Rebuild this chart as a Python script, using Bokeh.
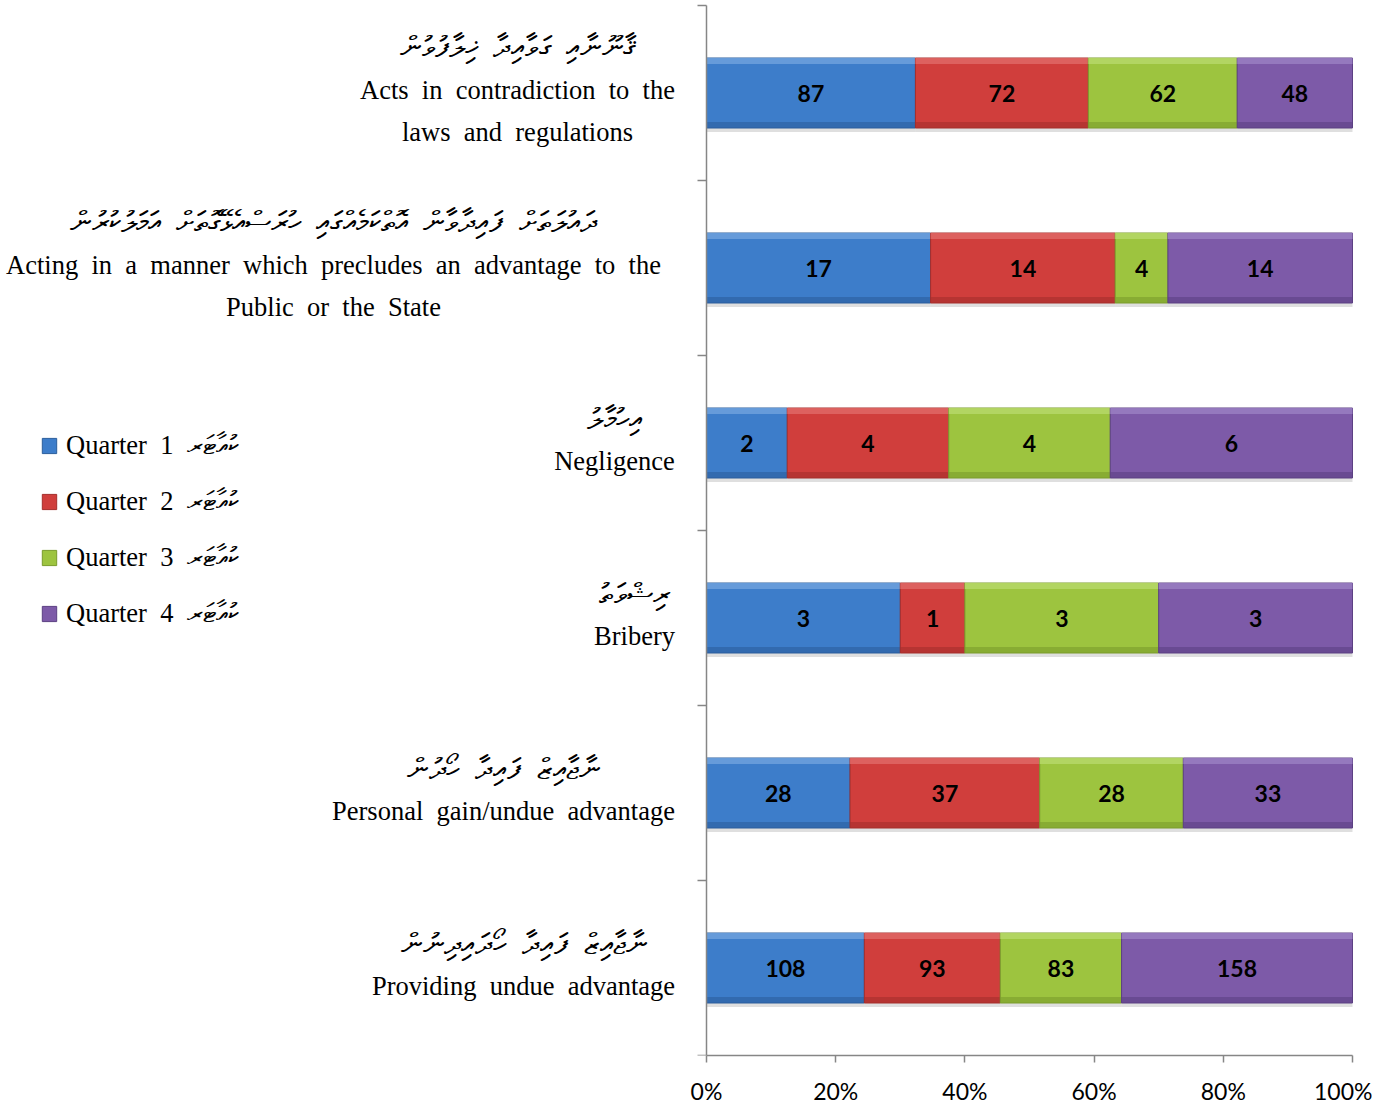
from bokeh.plotting import figure
from bokeh.models import FixedTicker, Legend, LegendItem, ColumnDataSource, Range1d
from bokeh.core.properties import value
from bokeh.embed import file_html
from bokeh.resources import INLINE

# ---------------- data (bottom to top) ----------------
categories_en = [
    ["Providing undue advantage"],
    ["Personal gain/undue advantage"],
    ["Bribery"],
    ["Negligence"],
    ["Acting in a manner which precludes an advantage to the", "Public or the State"],
    ["Acts in contradiction to the", "laws and regulations"],
]
categories_dv = [
    "ނާޖާއިޒް ފައިދާ ހޯދައިދިނުން",
    "ނާޖާއިޒް ފައިދާ ހޯދުން",
    "ރިޝްވަތު",
    "އިހުމާލު",
    "ދައުލަތަށް ފައިދާވާން އޮތްކަމެއްގައި ހުރަސްއެޅޭގޮތަށް އަމަލުކުރުން",
    "ޤާނޫނާއި ގަވާއިދާ ޚިލާފުވުން",
]
q1 = [108, 28, 3, 2, 17, 87]
q2 = [93, 37, 1, 4, 14, 72]
q3 = [83, 28, 3, 4, 4, 62]
q4 = [158, 33, 3, 6, 14, 48]
series = [q1, q2, q3, q4]
series_names = ["Quarter 1 ކުއާޓަރ", "Quarter 2 ކުއާޓަރ", "Quarter 3 ކުއާޓަރ", "Quarter 4 ކުއާޓަރ"]
x_ticks = [0, 20, 40, 60, 80, 100]
x_tick_labels = ["0%", "20%", "40%", "60%", "80%", "100%"]

# ---------------- style ----------------
face = ["#3d7dca", "#d03e3c", "#9dc43f", "#7d5aa8"]
light = ["#6a9fdc", "#de6563", "#b5d766", "#987cc0"]
dark = ["#2c5e9c", "#a52e2c", "#7a9c2c", "#5c4083"]
serif = "Liberation Serif"
sans = "Lato"


def spaced(s):
    # the reference sets its labels with wide (justified) word gaps
    return s.replace(" ", "\u00a0 ")


PX0 = 706.0          # pixel of 0%
PXU = 6.46           # pixels per percent
FRAME_W = 1372
FRAME_H = 1055
CAT_PX = 175.0
BAR_H = 0.4

n = len(q1)
ys = [i + 0.5 for i in range(n)]
totals = [sum(s[i] for s in series) for i in range(n)]

p = figure(frame_width=FRAME_W, frame_height=FRAME_H,
           x_range=Range1d(-PX0 / PXU, (FRAME_W - PX0) / PXU),
           y_range=Range1d(0, n + 5 / CAT_PX),
           output_backend="svg", toolbar_location=None,
           y_axis_location="right", x_axis_location="below",
           min_border_left=0, min_border_top=0, min_border_right=0, min_border_bottom=0)
p.outline_line_color = None
p.xgrid.visible = False
p.ygrid.visible = False
p.background_fill_color = "white"
p.border_fill_color = "white"

# stacked 100% segments
cum = [0.0] * n
renderers = []
shadow_dy = 4 / CAT_PX
strip = 6 / CAT_PX
for k, s in enumerate(series):
    left = [cum[i] for i in range(n)]
    right = [cum[i] + 100.0 * s[i] / totals[i] for i in range(n)]
    cum = right
    src = ColumnDataSource(dict(
        y=ys, left=left, right=right,
        ys=[y - shadow_dy for y in ys],
        ytop=[y + BAR_H / 2 - strip / 2 for y in ys],
        ybot=[y - BAR_H / 2 + strip / 2 for y in ys],
        mid=[(l + r) / 2 for l, r in zip(left, right)],
        lab=[str(v) for v in s],
    ))
    p.hbar(y="ys", left="left", right="right", height=BAR_H, source=src,
           fill_color="#808080", fill_alpha=0.25, line_color=None)
    r = p.hbar(y="y", left="left", right="right", height=BAR_H, source=src,
               fill_color=face[k], line_color=dark[k], line_width=1)
    p.hbar(y="ytop", left="left", right="right", height=strip, source=src,
           fill_color=light[k], line_color=None, fill_alpha=0.9)
    p.hbar(y="ybot", left="left", right="right", height=strip, source=src,
           fill_color=dark[k], line_color=None, fill_alpha=0.6)
    p.text(x="mid", y="y", text="lab", source=src, text_align="center",
           text_baseline="middle", text_font=value(sans), text_font_style="bold",
           text_font_size="23px", text_color="black")
    renderers.append(r)

# category labels
label_center_px = [523, 503, 634, 614, 333, 517]
dv = dict(x=[], y=[], t=[])
en = dict(x=[], y=[], t=[])
for i in range(n):
    lines = [categories_dv[i]] + categories_en[i]
    offs = [-47, -3.5, 38.5] if len(lines) == 3 else [-25, 18]
    for j, (line, off) in enumerate(zip(lines, offs)):
        d = dv if j == 0 else en
        d["x"].append((label_center_px[i] - PX0) / PXU)
        d["y"].append(ys[i] - off / CAT_PX)
        d["t"].append(spaced(line))
p.text(x="x", y="y", text="t", source=ColumnDataSource(dv), text_align="center",
       text_baseline="middle", text_font=value(serif), text_font_size="30px",
       text_color="black")
p.text(x="x", y="y", text="t", source=ColumnDataSource(en), text_align="center",
       text_baseline="middle", text_font=value(serif), text_font_size="26.5px",
       text_color="black")

# x axis
xa = p.xaxis[0]
xa.ticker = FixedTicker(ticks=x_ticks)
xa.major_label_overrides = {t: l for t, l in zip(x_ticks, x_tick_labels)}
xa.bounds = (0, 100)
xa.major_tick_out = 7
xa.major_tick_in = 0
xa.minor_tick_line_color = None
xa.axis_line_color = "#868686"
xa.axis_line_width = 1.5
xa.major_tick_line_color = "#868686"
xa.major_tick_line_width = 1.5
xa.major_label_text_font = sans
xa.major_label_text_font_size = "23px"
xa.major_label_text_color = "black"
xa.major_label_standoff = 14

# y axis drawn at 0%
ya = p.yaxis[0]
ya.fixed_location = 0
ya.ticker = FixedTicker(ticks=list(range(n + 1)))
ya.bounds = (0, n)
ya.major_tick_in = 9
ya.major_tick_out = 0
ya.minor_tick_line_color = None
ya.major_label_overrides = {i: "" for i in range(n + 1)}
ya.major_label_standoff = 0
ya.axis_line_color = "#868686"
ya.axis_line_width = 1.5
ya.major_tick_line_color = "#868686"
ya.major_tick_line_width = 1.5

legend = Legend(items=[LegendItem(label=spaced(nm), renderers=[r]) for nm, r in zip(series_names, renderers)],
                location=(40, FRAME_H - 629), orientation="vertical",
                glyph_width=18, glyph_height=19, label_height=30, spacing=25,
                label_standoff=8, padding=0, margin=0,
                label_text_font=serif, label_text_font_size="26.5px",
                label_text_color="black",
                border_line_alpha=0, background_fill_alpha=0)
p.add_layout(legend, "center")

open("out.html", "w").write(file_html(p, INLINE))
